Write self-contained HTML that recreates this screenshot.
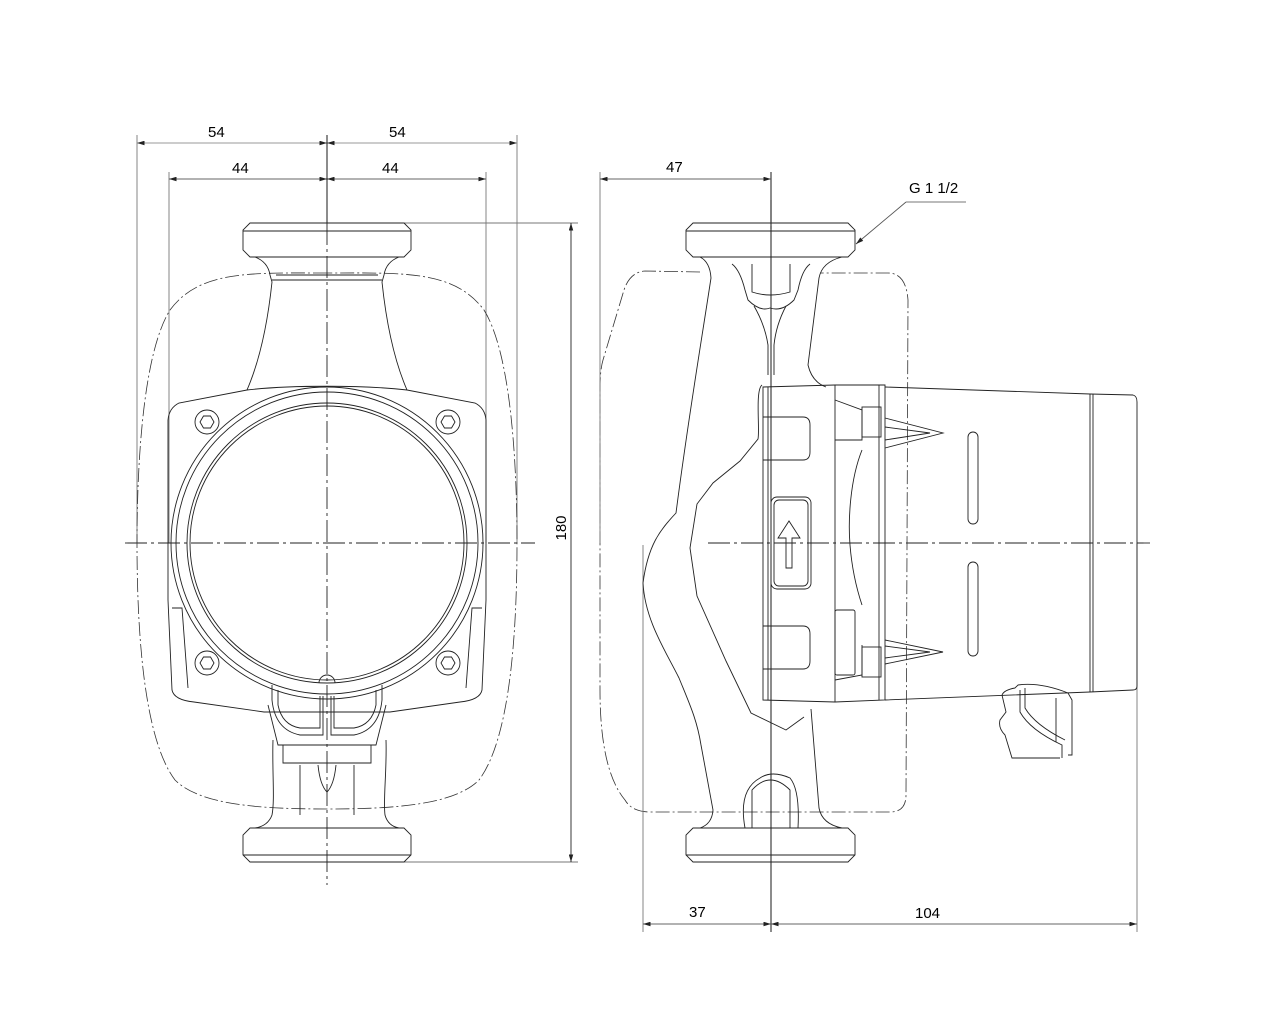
<!DOCTYPE html>
<html><head><meta charset="utf-8"><style>
html,body{margin:0;padding:0;background:#fff;}
svg{display:block;}
text{font-family:"Liberation Sans",sans-serif;font-size:15px;fill:#000;}
</style></head><body>
<svg width="1280" height="1024" viewBox="0 0 1280 1024" xmlns="http://www.w3.org/2000/svg">
<defs>
<marker id="ar" viewBox="0 0 10 6" refX="10" refY="3" markerWidth="9" markerHeight="5" orient="auto-start-reverse"><path d="M0,0 L10,3 L0,6 z" fill="#222"/></marker>
</defs>
<g fill="none" stroke="#222" stroke-width="0.9">
<g stroke="#777">
<line x1="137" y1="135" x2="137" y2="543"/>
<line x1="517" y1="135" x2="517" y2="543"/>
<line x1="169" y1="172" x2="169" y2="543"/>
<line x1="486" y1="172" x2="486" y2="543"/>
<line x1="327" y1="223" x2="578" y2="223"/>
<line x1="327" y1="862" x2="578" y2="862"/>
</g>
<line x1="137" y1="143" x2="327" y2="143" marker-start="url(#ar)" marker-end="url(#ar)" stroke="#999"/>
<line x1="327" y1="143" x2="517" y2="143" marker-start="url(#ar)" marker-end="url(#ar)" stroke="#999"/>
<line x1="169" y1="179" x2="327" y2="179" marker-start="url(#ar)" marker-end="url(#ar)" stroke="#666"/>
<line x1="327" y1="179" x2="486" y2="179" marker-start="url(#ar)" marker-end="url(#ar)" stroke="#666"/>
<line x1="571" y1="223" x2="571" y2="862" marker-start="url(#ar)" marker-end="url(#ar)"/>
<line x1="327" y1="135" x2="327" y2="223" stroke="#000"/>
<g stroke-dasharray="22,4,3,4">
<line x1="327" y1="223" x2="327" y2="885"/>
<line x1="125" y1="543" x2="535" y2="543"/>
<line x1="708" y1="543" x2="1150" y2="543"/>
<line x1="771" y1="200" x2="771" y2="230"/>
</g>
<g stroke-dasharray="14,3,2,3" stroke="#333" stroke-width="0.8">
<path d="M327,273 C250,273 200,270 170,310 C145,350 137,450 137,543 C137,640 145,740 175,780 C200,805 260,809 327,809 C394,809 454,805 479,780 C509,740 517,640 517,543 C517,450 509,350 484,310 C454,270 404,273 327,273 Z"/>
<path d="M700,272 L645,271 Q630,272 624,290 L603,360 Q600,370 600,390 L600,690 Q600,770 625,800 Q632,812 650,812 L890,812 Q906,812 906,795 L908,300 Q906,273 888,273 L820,273"/>
</g>
<path d="M250,223 L404,223 L411,230 L411,250 L404,257 L250,257 L243,250 L243,230 Z"/>
<line x1="243" y1="231" x2="411" y2="231"/>
<path d="M250,828 L404,828 L411,835 L411,855 L404,862 L250,862 L243,855 L243,835 Z"/>
<line x1="243" y1="855" x2="411" y2="855"/>
<path d="M255,257 Q268,262 270,275 L272,282 C268,320 260,360 247,390"/>
<path d="M399,257 Q386,262 384,275 L382,282 C386,320 394,360 407,390"/>
<line x1="272" y1="280" x2="382" y2="280"/>
<line x1="276" y1="275" x2="378" y2="275"/>
<path d="M247,390 C290,385 364,385 407,390 L475,403 Q485,408 486,420 L486,600 L482,690 Q480,700 460,702 L390,712 L264,712 L194,702 Q174,700 172,690 L168,600 L168,420 Q169,408 179,403 Z"/>
<path d="M172,608 L182,608 L188,688"/><path d="M482,608 L472,608 L466,688"/>
<circle cx="327" cy="543" r="156"/>
<circle cx="327" cy="543" r="151"/>
<circle cx="327" cy="543" r="140"/>
<circle cx="327" cy="543" r="137"/>
<g>
<circle cx="207" cy="422" r="12"/><path d="M200,422 l3.5,-6 h7 l3.5,6 l-3.5,6 h-7 z"/>
<circle cx="448" cy="422" r="12"/><path d="M441,422 l3.5,-6 h7 l3.5,6 l-3.5,6 h-7 z"/>
<circle cx="207" cy="663" r="12"/><path d="M200,663 l3.5,-6 h7 l3.5,6 l-3.5,6 h-7 z"/>
<circle cx="448" cy="663" r="12"/><path d="M441,663 l3.5,-6 h7 l3.5,6 l-3.5,6 h-7 z"/>
</g>
<path d="M319,683 A8,8 0 0 1 335,683"/>
<path d="M272,685 L272,700 Q275,730 300,735 L323,735 L323,696"/>
<path d="M382,685 L382,700 Q379,730 354,735 L331,735 L331,696"/>
<path d="M278,690 L278,705 Q282,725 300,728 L320,728 L320,696"/>
<path d="M376,690 L376,705 Q372,725 354,728 L334,728 L334,696"/>
<path d="M268,705 L278,745 L376,745 L386,705"/>
<path d="M283,745 L283,763 L371,763 L371,745"/>
<path d="M318,765 Q320,785 327,792 Q334,785 336,765"/>
<path d="M273,740 C272,770 275,800 272,815 Q268,826 255,828"/>
<path d="M386,740 C387,770 383,800 385,815 Q388,826 399,828"/>
<line x1="300" y1="765" x2="300" y2="815"/><line x1="354" y1="765" x2="354" y2="815"/>
<g stroke="#777">
<line x1="600" y1="172" x2="600" y2="543"/>
<line x1="643" y1="545" x2="643" y2="932"/>
<line x1="1137" y1="543" x2="1137" y2="932"/>
</g>
<line x1="771" y1="172" x2="771" y2="932" stroke="#000"/>
<line x1="600" y1="179" x2="771" y2="179" marker-start="url(#ar)" marker-end="url(#ar)" stroke="#666"/>
<line x1="643" y1="924" x2="771" y2="924" marker-start="url(#ar)" marker-end="url(#ar)" stroke="#666"/>
<line x1="771" y1="924" x2="1137" y2="924" marker-start="url(#ar)" marker-end="url(#ar)" stroke="#666"/>
<line x1="966" y1="202" x2="906" y2="202" stroke="#777"/>
<line x1="906" y1="202" x2="856" y2="244" stroke="#555" marker-end="url(#ar)"/>
<path d="M693,223 L848,223 L855,230 L855,250 L848,257 L693,257 L686,250 L686,230 Z"/>
<line x1="686" y1="231" x2="855" y2="231"/>
<path d="M693,828 L848,828 L855,835 L855,855 L848,862 L693,862 L686,855 L686,835 Z"/>
<line x1="686" y1="855" x2="855" y2="855"/>
<path d="M700,257 Q710,262 711,278 C700,350 688,420 676,513 C660,530 648,545 643,583 C645,620 665,650 679,678 C690,705 697,720 701,745 L713,810 Q712,824 700,828"/>
<path d="M842,257 Q822,262 819,278 L808,365 Q812,382 826,387"/>
<path d="M811,709 L819,808 Q822,824 842,828"/>
<path d="M762,385 C755,390 760,430 758,439 L740,461 L713,483 L697,504 L690,548 L697,596 L726,661 L751,713 L786,730 L804,717"/>
<path d="M732,264 Q740,270 745,290 L748,300 Q760,312 770,308 Q782,312 794,300 L798,290 Q802,270 810,264"/>
<path d="M752,264 L752,292 Q770,298 790,292 L790,264"/>
<path d="M754,306 Q765,325 768,345 L768,375"/><path d="M786,306 Q776,325 774,345 L774,375"/>
<path d="M752,828 L752,790 Q770,770 790,790 L790,828"/>
<path d="M745,828 Q738,790 760,778 Q772,770 790,778 Q800,790 798,828"/>
<path d="M763,387 L835,385 L885,385 L885,700 L835,702 L763,700 Z"/>
<line x1="768" y1="387" x2="768" y2="700"/>
<line x1="835" y1="385" x2="835" y2="702"/>
<line x1="879" y1="385" x2="879" y2="700"/>
<path d="M835,400 L862,410 L862,440 L835,440"/>
<path d="M862,450 C850,480 848,520 850,545 C852,570 857,590 862,605"/>
<path d="M862,645 L862,675 L835,680"/>
<rect x="862" y="407" width="19" height="30"/>
<rect x="862" y="647" width="19" height="30"/>
<rect x="835" y="610" width="20" height="65" rx="2"/>
<path d="M763,417 L803,417 Q810,417 810,425 L810,452 Q810,460 803,460 L763,460"/>
<path d="M763,626 L803,626 Q810,626 810,634 L810,661 Q810,669 803,669 L763,669"/>
<rect x="771" y="497" width="40" height="92" rx="6"/>
<rect x="774" y="500" width="34" height="86" rx="5"/>
<path d="M786,568 L786,538 L778,538 L789,521 L800,538 L792,538 L792,568 Z"/>
<path d="M885,418 L943,433 L885,448"/><path d="M885,427 L930,433 L885,440"/>
<path d="M885,640 L943,652 L885,664"/><path d="M885,646 L930,652 L885,658"/>
<path d="M885,387 L1090,394 L1133,395 Q1137,396 1137,402 L1137,686 Q1137,690 1133,690 L1090,692 L885,700"/>
<line x1="1090" y1="394" x2="1090" y2="692"/>
<line x1="1093" y1="394" x2="1093" y2="692"/>
<rect x="968" y="432" width="10" height="92" rx="5"/>
<rect x="968" y="562" width="10" height="94" rx="5"/>
<path d="M1002,695 Q1004,690 1015,688 L1018,685 Q1040,682 1068,693 L1072,700 L1072,755 L1068,755"/>
<path d="M1002,695 L1006,712 L1000,720 Q998,728 1005,735 L1012,758 L1060,758"/>
<path d="M1020,690 L1020,712 Q1030,730 1062,745 L1062,758"/>
<path d="M1025,688 L1025,708 Q1035,725 1065,740"/>
<line x1="1056" y1="698" x2="1056" y2="742"/>
</g>
<text x="208" y="137">54</text>
<text x="389" y="137">54</text>
<text x="232" y="173">44</text>
<text x="382" y="173">44</text>
<text x="666" y="172">47</text>
<text x="909" y="193">G 1 1/2</text>
<text x="689" y="917">37</text>
<text x="915" y="918">104</text>
<text x="566" y="528" transform="rotate(-90 566 528)" text-anchor="middle">180</text>
</svg>
</body></html>
